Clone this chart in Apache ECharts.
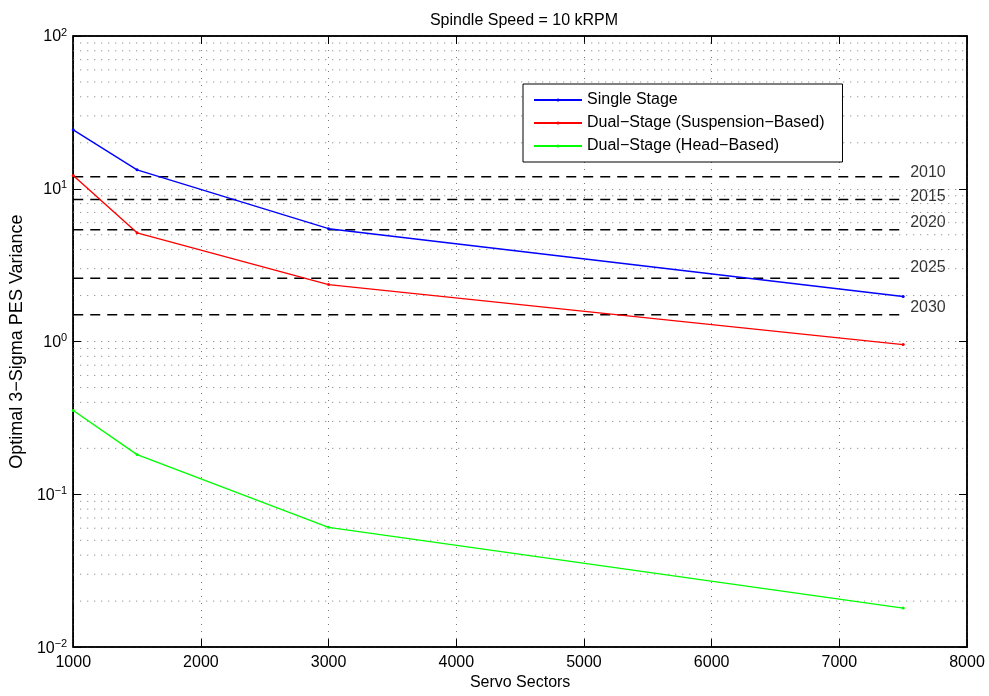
<!DOCTYPE html>
<html>
<head>
<meta charset="utf-8">
<script src="https://cdn.jsdelivr.net/npm/echarts@6/dist/echarts.min.js"></script>
<style>
  html, body { margin: 0; padding: 0; background: #fff; }
  #chart { width: 989px; height: 696px; }
</style>
</head>
<body>
<div id="chart"></div>
<script>
// servo sectors
var sectors = [1000, 1500, 3000, 7500];

// optimal 3-sigma PES variance
var singleStage = [24.3, 13.3, 5.48, 1.97];
var dualSuspension = [12.2, 5.15, 2.36, 0.955];
var dualHead = [0.354, 0.182, 0.0608, 0.018];

// reference levels by year
var refYears = ['2010', '2015', '2020', '2025', '2030'];
var refValues = [12, 8.5, 5.4, 2.6, 1.5];
var refRange = [1000, 7500];
var refLabelValues = [12.7, 8.9, 6.0, 3.05, 1.67];

var xTicks = [1000, 2000, 3000, 4000, 5000, 6000, 7000, 8000];

var font = 'Liberation Sans, Arial, Helvetica, sans-serif';

function pairs(xs, ys) {
    return xs.map(function (x, i) { return [x, ys[i]]; });
}

var series = [];

// minor grid lines (2..9 x 10^k) on log axis
var dotted = { color: '#777', width: 1, type: [1, 6] };
for (var k = -2; k <= 1; k++) {
    for (var m = 2; m <= 9; m++) {
        var v = m * Math.pow(10, k);
        series.push({
            type: 'line',
            silent: true,
            symbol: 'none',
            z: 1,
            lineStyle: dotted,
            data: [[xTicks[0], v], [xTicks[xTicks.length - 1], v]]
        });
    }
}

// dashed reference lines
refYears.forEach(function (year, i) {
    series.push({
        name: year,
        type: 'line',
        silent: true,
        symbol: 'none',
        z: 3,
        lineStyle: { color: '#000', width: 1.5, type: [10, 7] },
        data: [[refRange[0], refValues[i]], [refRange[1], refValues[i]]]
    });
});

// year labels
series.push({
    type: 'scatter',
    silent: true,
    symbolSize: 0,
    z: 5,
    label: {
        show: true,
        position: 'right',
        distance: 7,
        color: '#000',
        fontFamily: font,
        fontSize: 16,
        formatter: function (p) { return p.value[2]; }
    },
    data: refYears.map(function (year, i) { return [refRange[1], refLabelValues[i], year]; })
});

function dataSeries(name, color, values) {
    return {
        name: name,
        type: 'line',
        symbol: 'circle',
        symbolSize: 3,
        z: 4,
        color: color,
        lineStyle: { color: color, width: 1.4 },
        itemStyle: { color: color },
        data: pairs(sectors, values)
    };
}

series.push(dataSeries('Single Stage', '#0000ff', singleStage));
series.push(dataSeries('Dual\u2212Stage (Suspension\u2212Based)', '#ff0000', dualSuspension));
series.push(dataSeries('Dual\u2212Stage (Head\u2212Based)', '#00ff00', dualHead));

var option = {
    backgroundColor: '#fff',
    animation: false,
    title: {
        text: 'Spindle Speed = 10 kRPM',
        left: 519,
        textAlign: 'center',
        top: 8,
        textStyle: { fontFamily: font, fontSize: 16, fontWeight: 'normal', color: '#000' }
    },
    legend: {
        data: ['Single Stage', 'Dual\u2212Stage (Suspension\u2212Based)', 'Dual\u2212Stage (Head\u2212Based)'],
        orient: 'vertical',
        left: 523,
        top: 84,
        padding: [8, 18, 8, 10],
        itemWidth: 48,
        itemHeight: 4,
        itemGap: 7,
        backgroundColor: '#fff',
        borderColor: '#000',
        borderWidth: 1,
        borderRadius: 0,
        textStyle: { fontFamily: font, fontSize: 16, color: '#000' }
    },
    grid: {
        left: 73,
        right: 22,
        top: 36,
        bottom: 48,
        show: true,
        borderColor: '#000',
        borderWidth: 1.5,
        backgroundColor: 'transparent',
        containLabel: false
    },
    xAxis: [{
        type: 'value',
        min: 1000,
        max: 8000,
        interval: 1000,
        name: 'Servo Sectors',
        nameLocation: 'middle',
        nameGap: 26,
        nameTextStyle: { fontFamily: font, fontSize: 16, color: '#000' },
        axisLine: { show: true, lineStyle: { color: '#000', width: 1.5 } },
        axisTick: { show: true, inside: true, length: 8, lineStyle: { color: '#000' } },
        axisLabel: {
            fontFamily: font, fontSize: 16, color: '#000', margin: 7,
            formatter: function (v) { return String(v); }
        },
        splitLine: { show: true, lineStyle: dotted }
    }, {
        type: 'value',
        position: 'top',
        min: 1000,
        max: 8000,
        interval: 1000,
        axisLine: { show: true, lineStyle: { color: '#000', width: 1.5 } },
        axisTick: { show: true, inside: true, length: 8, lineStyle: { color: '#000' } },
        axisLabel: { show: false },
        splitLine: { show: false }
    }],
    yAxis: [{
        type: 'log',
        logBase: 10,
        min: 0.01,
        max: 100,
        name: 'Optimal 3\u2212Sigma PES Variance',
        nameLocation: 'middle',
        nameGap: 44,
        nameTextStyle: { fontFamily: font, fontSize: 18, color: '#000' },
        axisLine: { show: true, lineStyle: { color: '#000', width: 1.5 } },
        axisTick: { show: true, inside: true, length: 8, lineStyle: { color: '#000' } },
        axisLabel: {
            margin: 6,
            padding: [0, 0, 2, 0],
            formatter: function (value) {
                var e = Math.round(Math.log10(value));
                return '{b|10}{s|' + (e < 0 ? '\u2212' + (-e) : e) + '}';
            },
            rich: {
                b: { fontFamily: font, fontSize: 16, color: '#000', lineHeight: 16, padding: [4, 0, 0, 0] },
                s: { fontFamily: font, fontSize: 11, color: '#000', lineHeight: 11, verticalAlign: 'top' }
            }
        },
        splitLine: { show: true, lineStyle: dotted }
    }, {
        type: 'log',
        logBase: 10,
        min: 0.01,
        max: 100,
        position: 'right',
        axisLine: { show: true, lineStyle: { color: '#000', width: 1.5 } },
        axisTick: { show: true, inside: true, length: 8, lineStyle: { color: '#000' } },
        axisLabel: { show: false },
        splitLine: { show: false }
    }],
    series: series
};

var myChart = echarts.init(document.getElementById('chart'));
myChart.setOption(option);
</script>
</body>
</html>
